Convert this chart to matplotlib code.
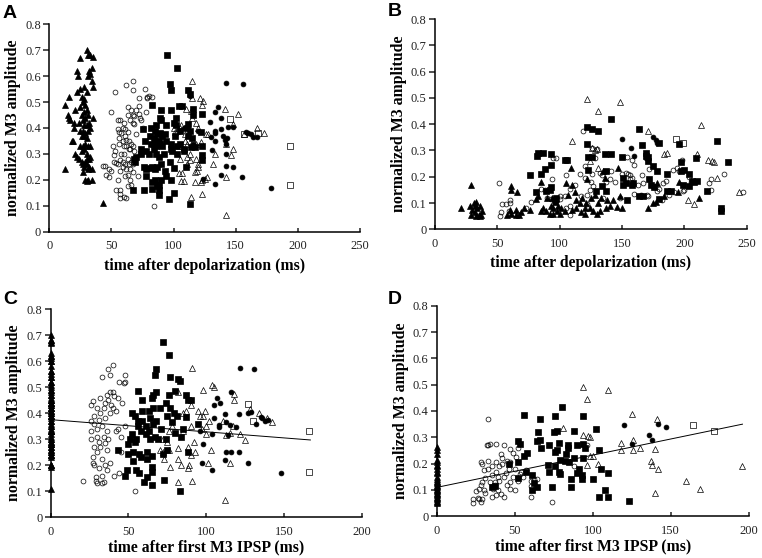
import matplotlib
matplotlib.use('Agg')
import matplotlib.pyplot as plt

# values, (time, amplitude), one list per marker type
a_ftri = [(13,.49),(13,.24),(16,.52),(15,.45),(16,.44),(17,.43),(18,.35),(19,.35),(20,.42),(21,.30),(22,.29),(20,.40),(21,.47),(22,.54),(22,.62),(23,.60),(24,.42),(24,.28),(25,.39),(25,.33),(25,.48),(25,.55),(25,.67),(26,.52),(26,.45),(26,.37),(26,.31),(26,.27),(27,.50),(27,.43),(27,.39),(27,.33),(27,.26),(27,.23),(28,.56),(28,.51),(28,.46),(28,.41),(28,.37),(28,.32),(28,.25),(29,.49),(29,.44),(29,.38),(29,.34),(29,.27),(29,.20),(30,.70),(30,.54),(30,.47),(30,.41),(30,.36),(30,.30),(30,.28),(30,.26),(30,.195),(31,.68),(31,.60),(31,.45),(31,.39),(31,.33),(31,.24),(31,.20),(32,.62),(32,.42),(32,.28),(32,.25),(33,.68),(33,.61),(33,.40),(33,.33),(33,.29),(34,.63),(34,.58),(34,.24),(34,.20),(35,.675),(35,.56),(35,.44),(43,.11)]
a_ocir = [(43,.255),(45,.255),(46,.22),(48,.21),(48,.24),(50,.235),(50,.46),(51,.33),(52,.295),(52,.27),(53,.31),(53,.54),(54,.265),(54,.16),(55,.43),(55,.395),(55,.20),(55,.26),(56,.385),(56,.36),(56,.34),(57,.43),(57,.275),(57,.235),(57,.16),(57,.145),(57,.13),(58,.38),(58,.30),(59,.40),(59,.35),(59,.27),(59,.25),(60,.42),(60,.33),(60,.30),(60,.135),(61,.395),(61,.37),(61,.26),(61,.215),(62,.565),(62,.355),(62,.33),(62,.24),(62,.13),(63,.48),(63,.45),(63,.385),(63,.28),(63,.22),(63,.175),(64,.35),(64,.32),(64,.26),(65,.43),(65,.32),(65,.24),(65,.20),(66,.47),(66,.34),(66,.27),(66,.18),(67,.58),(67,.545),(67,.45),(67,.42),(67,.33),(67,.26),(67,.23),(68,.445),(68,.415),(68,.31),(70,.47),(70,.375),(71,.215),(72,.515),(72,.485),(72,.455),(73,.44),(73,.30),(74,.43),(75,.40),(77,.55),(78,.46),(79,.515),(79,.52),(80,.525),(84,.10),(83,.52)]
a_fsqr = [(67,.16),(76,.16),(68,.28),(69,.27),(70,.29),(74,.30),(74,.32),(75,.395),(76,.25),(77,.35),(78,.31),(78,.24),(78,.215),(80,.30),(81,.245),(81,.37),(82,.40),(82,.34),(83,.25),(83,.49),(83,.19),(83,.165),(84,.36),(84,.32),(85,.39),(85,.35),(85,.24),(85,.20),(86,.41),(86,.33),(86,.30),(87,.375),(87,.25),(87,.175),(88,.35),(88,.29),(88,.18),(88,.16),(88,.14),(89,.44),(89,.38),(89,.34),(90,.47),(90,.43),(90,.26),(90,.20),(91,.37),(91,.33),(92,.30),(93,.375),(93,.235),(94,.35),(94,.41),(94,.215),(95,.68),(96,.125),(97,.57),(97,.27),(98,.545),(98,.47),(98,.34),(98,.32),(98,.20),(99,.31),(100,.42),(100,.245),(100,.15),(101,.37),(102,.44),(102,.41),(103,.63),(103,.33),(103,.30),(104,.485),(105,.34),(105,.39),(107,.485),(108,.32),(108,.31),(110,.25),(111,.40),(112,.415),(112,.37),(112,.545),(113,.105),(113,.53),(113,.39),(114,.325),(115,.36),(116,.475),(116,.45),(117,.325),(123,.455),(122,.385),(123,.33),(123,.295),(123,.275)]
a_otri = [(115,.58),(121,.515),(123,.49),(124,.505),(100,.40),(101,.385),(103,.39),(105,.40),(106,.41),(109,.375),(110,.475),(111,.29),(105,.28),(104,.33),(104,.225),(107,.225),(106,.195),(108,.195),(109,.35),(111,.34),(111,.26),(113,.30),(113,.275),(114,.135),(114,.465),(115,.515),(115,.44),(116,.35),(117,.23),(117,.19),(118,.34),(118,.28),(118,.42),(119,.235),(120,.26),(120,.25),(120,.40),(122,.19),(122,.345),(123,.145),(123,.20),(125,.205),(126,.375),(127,.21),(128,.375),(132,.26),(133,.30),(141,.475),(142,.065),(142,.21),(142,.34),(146,.295),(148,.415),(148,.32),(152,.455),(157,.375),(167,.40),(173,.38)]
a_fcir = [(108,.40),(113,.525),(116,.34),(120,.39),(124,.205),(129,.425),(130,.365),(131,.315),(133,.46),(133,.39),(133,.38),(133,.35),(133,.185),(136,.48),(138,.22),(138,.44),(138,.395),(140,.37),(141,.355),(142,.30),(142,.34),(142,.255),(142,.575),(143,.36),(144,.405),(148,.25),(148,.405),(155,.21),(156,.57),(158,.385),(160,.38),(162,.375),(164,.365),(167,.365),(178,.17)]
a_osqr = [(145,.435),(157,.375),(168,.38),(194,.33),(194,.18)]

b_ftri = [(21,.08),(29,.17),(28,.09),(29,.055),(30,.075),(31,.10),(32,.065),(32,.09),(33,.105),(33,.05),(34,.08),(35,.055),(36,.09),(36,.05),(38,.07),(37,.055),(58,.055),(60,.075),(61,.165),(61,.15),(61,.06),(65,.055),(65,.075),(66,.14),(67,.055),(69,.065),(71,.08),(76,.075),(81,.115),(83,.125),(85,.18),(85,.07),(87,.08),(89,.07),(90,.12),(92,.06),(93,.09),(94,.12),(95,.08),(95,.06),(96,.105),(97,.115),(98,.07),(99,.09),(100,.06),(101,.08),(104,.07),(105,.175),(107,.13),(109,.235),(110,.17),(110,.075),(112,.14),(113,.11),(113,.08),(116,.10),(117,.065),(118,.12),(120,.08),(120,.06),(121,.10),(122,.19),(124,.08),(125,.12),(127,.07),(128,.13),(130,.06),(131,.10),(132,.07),(133,.12),(135,.22),(136,.195),(137,.08),(138,.11),(140,.09),(143,.11),(146,.085),(147,.235),(148,.125),(150,.08),(171,.08),(175,.10),(177,.105),(178,.175),(184,.125),(195,.14),(196,.18),(212,.12)]
b_ocir = [(51,.175),(52,.05),(53,.065),(54,.095),(57,.095),(60,.10),(60,.11),(59,.07),(64,.06),(73,.08),(77,.105),(85,.155),(88,.15),(90,.12),(93,.115),(94,.19),(95,.27),(96,.105),(96,.09),(97,.27),(100,.125),(100,.115),(104,.125),(105,.08),(105,.205),(108,.055),(108,.09),(108,.155),(112,.17),(116,.21),(117,.125),(119,.375),(120,.24),(120,.195),(122,.095),(122,.13),(124,.15),(125,.18),(126,.21),(126,.31),(127,.165),(128,.27),(130,.305),(132,.215),(134,.205),(135,.12),(137,.18),(140,.19),(141,.22),(144,.18),(148,.12),(150,.21),(153,.215),(154,.275),(155,.21),(156,.205),(156,.19),(158,.265),(158,.195),(160,.135),(160,.245),(163,.17),(165,.13),(166,.205),(167,.175),(170,.13),(171,.125),(172,.23),(176,.16),(178,.145),(180,.155),(182,.11),(183,.175),(185,.185),(188,.13),(191,.225),(192,.14),(194,.235),(196,.22),(198,.265),(199,.145),(200,.15),(204,.20),(205,.18),(220,.175),(221,.15),(221,.19),(232,.21),(247,.14)]
b_fsqr = [(76,.205),(81,.14),(82,.28),(83,.29),(85,.21),(87,.29),(88,.23),(89,.145),(92,.15),(93,.285),(93,.16),(93,.245),(96,.11),(97,.12),(104,.265),(106,.265),(122,.39),(122,.325),(123,.275),(123,.225),(126,.38),(126,.275),(129,.145),(131,.375),(134,.165),(136,.285),(137,.145),(141,.285),(141,.42),(137,.22),(150,.275),(151,.195),(151,.17),(153,.175),(154,.11),(158,.17),(159,.175),(164,.38),(164,.125),(166,.32),(167,.125),(169,.28),(169,.29),(171,.26),(171,.275),(172,.19),(173,.17),(175,.24),(176,.16),(178,.22),(180,.33),(180,.115),(186,.21),(186,.145),(189,.145),(196,.325),(197,.255),(197,.22),(199,.17),(200,.225),(204,.21),(204,.165),(206,.185),(208,.18),(209,.27),(210,.185),(218,.145),(226,.335),(229,.08),(229,.07),(235,.255)]
b_otri = [(110,.335),(122,.495),(124,.26),(126,.31),(128,.30),(130,.305),(131,.45),(131,.235),(148,.485),(171,.375),(184,.285),(186,.29),(203,.11),(208,.095),(213,.395),(210,.285),(219,.265),(222,.26),(224,.255),(226,.195),(244,.14)]
b_fcir = [(150,.345),(157,.31),(160,.28),(175,.35),(177,.34),(169,.27),(178,.33)]
b_osqr = [(193,.345),(199,.33)]

c_ftri_y = [y for x, y in a_ftri]  # same amplitudes as A, all at time zero
c_ocir = [(21,.14),(26,.43),(26,.37),(26,.33),(26,.30),(27,.23),(27,.21),(27,.445),(28,.39),(28,.36),(28,.27),(28,.20),(29,.155),(29,.14),(30,.42),(30,.34),(30,.31),(30,.25),(30,.13),(31,.375),(31,.29),(31,.19),(32,.46),(32,.40),(32,.27),(33,.13),(33,.16),(33,.35),(33,.225),(33,.54),(34,.135),(34,.42),(34,.31),(35,.44),(35,.38),(35,.285),(35,.20),(36,.47),(36,.33),(36,.26),(36,.18),(37,.57),(37,.45),(37,.30),(38,.48),(38,.21),(38,.40),(38,.545),(39,.43),(40,.585),(40,.48),(40,.42),(41,.16),(41,.465),(42,.41),(42,.33),(43,.46),(44,.17),(44,.52),(45,.31),(45,.25),(46,.44),(47,.515),(48,.545),(48,.52),(48,.35),(54,.10),(43,.34)]
c_fsqr = [(43,.26),(48,.16),(49,.18),(50,.245),(50,.28),(51,.30),(52,.40),(52,.32),(53,.25),(53,.215),(54,.39),(54,.29),(55,.30),(55,.18),(56,.37),(56,.485),(56,.35),(57,.245),(57,.17),(58,.33),(58,.23),(59,.45),(59,.41),(59,.37),(60,.135),(61,.35),(61,.32),(62,.225),(62,.155),(62,.25),(63,.41),(63,.33),(64,.38),(64,.30),(65,.46),(65,.235),(65,.175),(65,.195),(65,.125),(66,.47),(66,.42),(66,.36),(67,.545),(67,.31),(68,.57),(68,.48),(68,.37),(69,.30),(70,.42),(71,.34),(72,.675),(72,.245),(73,.145),(74,.44),(74,.30),(75,.26),(75,.39),(76,.625),(76,.47),(77,.54),(77,.42),(78,.365),(79,.40),(80,.485),(80,.325),(81,.39),(82,.53),(83,.525),(83,.10),(84,.31),(85,.34),(87,.47),(87,.385),(88,.25),(88,.45),(90,.45),(95,.36)]
c_otri = [(91,.575),(98,.49),(104,.51),(105,.50),(118,.475),(118,.45),(128,.415),(82,.48),(90,.43),(85,.40),(87,.41),(95,.41),(99,.41),(96,.39),(98,.39),(100,.35),(111,.37),(76,.33),(72,.30),(73,.225),(75,.29),(76,.26),(72,.25),(82,.265),(82,.225),(84,.20),(89,.20),(78,.35),(70,.26),(77,.195),(82,.135),(88,.19),(91,.14),(92,.29),(90,.35),(93,.25),(97,.34),(100,.32),(102,.37),(103,.26),(101,.21),(112,.065),(113,.315),(115,.21),(115,.325),(122,.32),(125,.295),(117,.35),(134,.40),(139,.38),(142,.365),(85,.33),(88,.27),(90,.24)]
c_fcir = [(97,.21),(96,.33),(98,.28),(104,.32),(104,.18),(105,.38),(105,.43),(107,.46),(108,.345),(108,.355),(109,.44),(112,.395),(112,.22),(113,.365),(113,.25),(114,.315),(115,.355),(116,.48),(116,.25),(119,.345),(121,.395),(121,.25),(122,.575),(127,.40),(127,.21),(129,.405),(131,.57),(132,.36),(135,.385),(136,.38),(138,.37),(140,.375),(148,.17)]
c_osqr = [(127,.435),(130,.37),(166,.33),(166,.175)]
c_line_x = [0, 167]
c_line_y = [.375, .297]

d_ftri_y = [.05,.055,.06,.065,.07,.075,.08,.085,.09,.095,.10,.105,.11,.115,.12,.125,.13,.135,.14,.15,.165,.17,.18,.19,.195,.205,.215,.235,.25,.265]
d_ocir = [(23,.05),(23,.065),(25,.095),(26,.07),(27,.065),(27,.105),(28,.12),(28,.055),(28,.205),(29,.20),(29,.13),(29,.065),(30,.175),(30,.10),(31,.09),(31,.145),(32,.27),(33,.27),(33,.37),(33,.21),(33,.18),(34,.275),(34,.13),(35,.19),(35,.155),(35,.075),(36,.105),(37,.13),(37,.12),(38,.275),(38,.205),(38,.17),(38,.08),(39,.15),(39,.10),(40,.19),(40,.135),(41,.235),(41,.085),(42,.22),(42,.20),(43,.27),(43,.15),(43,.075),(44,.165),(45,.21),(45,.12),(46,.18),(47,.105),(47,.205),(47,.255),(47,.13),(49,.24),(49,.15),(50,.10),(50,.18),(51,.225),(52,.26),(52,.135),(53,.16),(54,.17),(60,.075),(60,.135),(60,.115),(62,.14),(64,.14),(74,.055),(88,.19),(96,.27),(55,.15),(57,.175)]
d_fsqr = [(35,.11),(37,.115),(46,.20),(52,.285),(53,.275),(52,.205),(52,.145),(56,.385),(56,.23),(57,.17),(58,.24),(61,.155),(61,.10),(62,.125),(64,.11),(64,.285),(65,.32),(66,.29),(66,.37),(67,.26),(71,.195),(72,.27),(72,.17),(74,.11),(75,.32),(76,.19),(76,.245),(76,.38),(77,.25),(77,.325),(78,.17),(78,.28),(79,.16),(79,.215),(80,.415),(82,.21),(83,.235),(84,.27),(84,.26),(85,.205),(86,.11),(86,.14),(88,.22),(88,.325),(90,.165),(90,.27),(91,.18),(93,.155),(93,.14),(94,.38),(94,.275),(94,.22),(95,.26),(100,.14),(102,.33),(104,.075),(104,.25),(105,.18),(108,.10),(110,.165),(110,.075),(123,.06)]
d_otri = [(81,.335),(94,.49),(94,.31),(96,.445),(96,.195),(97,.305),(98,.23),(98,.30),(100,.23),(103,.20),(110,.48),(118,.28),(118,.25),(125,.39),(126,.29),(126,.25),(130,.26),(137,.21),(138,.195),(140,.255),(140,.09),(141,.37),(142,.18),(160,.135),(169,.105),(196,.19)]
d_fcir = [(120,.345),(125,.275),(136,.31),(138,.29),(142,.35),(147,.34)]
d_osqr = [(164,.345),(178,.325)]
d_line_x = [0, 196]
d_line_y = [.11, .35]

y_ticks = [0, .1, .2, .3, .4, .5, .6, .7, .8]
y_labels = ['0', '0.1', '0.2', '0.3', '0.4', '0.5', '0.6', '0.7', '0.8']
W, H = 762, 558


def make_axes(x0, x1, y0, y1, xmax, xstep, xlabel, letter, lx, ly, xpad):
    # x0,x1,y0,y1 are pixel positions of the axis ends
    ax = fig.add_axes([x0 / W, 1 - y0 / H, (x1 - x0) / W, (y0 - y1) / H])
    ax.set_xlim(0, xmax)
    ax.set_ylim(0, .8)
    ax.set_xticks(range(0, xmax + 1, xstep))
    ax.set_yticks(y_ticks)
    ax.set_yticklabels(y_labels)
    ax.spines['top'].set_visible(False)
    ax.spines['right'].set_visible(False)
    ax.spines['left'].set_linewidth(1.1)
    ax.spines['bottom'].set_linewidth(1.1)
    ax.tick_params(axis='x', direction='in', length=3, width=1.1, labelsize=9, pad=6, colors='#222222')
    ax.tick_params(axis='y', direction='out', length=4.5, width=1.1, labelsize=9, pad=1.5, colors='#222222')
    ax.set_xlabel(xlabel, fontweight='bold', fontsize=11.3, labelpad=xpad)
    ax.set_ylabel('normalized M3 amplitude', fontweight='bold', fontsize=11.4, labelpad=3)
    fig.text(lx / W, 1 - ly / H, letter, family='Liberation Sans', fontweight='bold', fontsize=14, va='center', ha='left')
    return ax


def draw(ax, points, marker, filled):
    xs = [p[0] for p in points]
    ys = [p[1] for p in points]
    ax.plot(xs, ys, linestyle='none', marker=marker, markersize=4.1 if marker != 'o' else 3.5,
            markerfacecolor='black' if filled else 'none', markeredgecolor='black',
            markeredgewidth=0.5, clip_on=False)


plt.rcParams['font.family'] = ['Liberation Serif', 'DejaVu Serif']
fig = plt.figure(figsize=(7.62, 5.58), dpi=100)

ax_a = make_axes(49.3, 360, 231.7, 24.3, 250, 50, 'time after depolarization (ms)', 'A', 3, 14, 4)
draw(ax_a, a_ftri, '^', True)
draw(ax_a, a_ocir, 'o', False)
draw(ax_a, a_fsqr, 's', True)
draw(ax_a, a_otri, '^', False)
draw(ax_a, a_fcir, 'o', True)
draw(ax_a, a_osqr, 's', False)

ax_b = make_axes(435, 746.7, 229.3, 19, 250, 50, 'time after depolarization (ms)', 'B', 388, 12, 4)
draw(ax_b, b_ftri, '^', True)
draw(ax_b, b_ocir, 'o', False)
draw(ax_b, b_fsqr, 's', True)
draw(ax_b, b_otri, '^', False)
draw(ax_b, b_fcir, 'o', True)
draw(ax_b, b_osqr, 's', False)

ax_c = make_axes(50.7, 361.7, 517.3, 309, 200, 50, 'time after first M3 IPSP (ms)', 'C', 3, 300, 1.5)
draw(ax_c, [(0, y) for y in c_ftri_y], '^', True)
draw(ax_c, c_ocir, 'o', False)
draw(ax_c, c_fsqr, 's', True)
draw(ax_c, c_otri, '^', False)
draw(ax_c, c_fcir, 'o', True)
draw(ax_c, c_osqr, 's', False)
ax_c.plot(c_line_x, c_line_y, color='black', linewidth=0.7)

ax_d = make_axes(437, 748.7, 516.3, 305.7, 200, 50, 'time after first M3 IPSP (ms)', 'D', 388, 300, 1.5)
draw(ax_d, [(0, y) for y in d_ftri_y], '^', True)
draw(ax_d, d_ocir, 'o', False)
draw(ax_d, d_fsqr, 's', True)
draw(ax_d, d_otri, '^', False)
draw(ax_d, d_fcir, 'o', True)
draw(ax_d, d_osqr, 's', False)
ax_d.plot(d_line_x, d_line_y, color='black', linewidth=0.7)

fig.savefig('out.png', dpi=100)
